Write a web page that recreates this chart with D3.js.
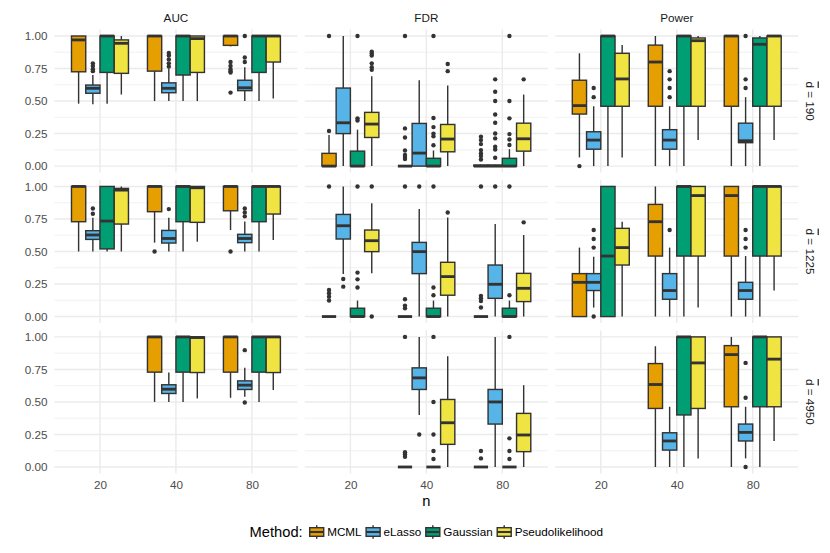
<!DOCTYPE html>
<html>
<head>
<meta charset="utf-8">
<script src="https://cdn.jsdelivr.net/npm/d3@7"></script>
<style>
  body { margin: 0; background: #fff; }
  text { font-family: "Liberation Sans", Arial, sans-serif; }
</style>
</head>
<body>
<svg width="830" height="553"></svg>
<script>
const nLevels = ["20", "40", "80"];
const methods = ["MCML", "eLasso", "Gaussian", "Pseudolikelihood"];
const metrics = ["AUC", "FDR", "Power"];
const densities = ["190", "1225", "4950"];
const yTicks = [0, 0.25, 0.5, 0.75, 1];
const yMinor = [0.125, 0.375, 0.625, 0.875];

// [n, method, lower whisker, q1, median, q3, upper whisker, outliers]
const auc190 = [
  ["20", "MCML", 0.48, 0.725, 0.97, 1, 1, []],
  ["20", "eLasso", 0.475, 0.56, 0.598, 0.623, 0.70, [0.79, 0.77, 0.745, 0.73]],
  ["20", "Gaussian", 0.48, 0.72, 1, 1, 1, []],
  ["20", "Pseudolikelihood", 0.55, 0.713, 0.944, 0.97, 1, []],
  ["40", "MCML", 0.50, 0.73, 1, 1, 1, []],
  ["40", "eLasso", 0.50, 0.564, 0.598, 0.64, 0.75, [0.87, 0.85, 0.82, 0.79, 0.765]],
  ["40", "Gaussian", 0.50, 0.70, 1, 1, 1, []],
  ["40", "Pseudolikelihood", 0.50, 0.72, 0.98, 1, 1, []],
  ["80", "MCML", 0.92, 0.928, 1, 1, 1, [0.80, 0.77, 0.745, 0.73, 0.72, 0.565]],
  ["80", "eLasso", 0.50, 0.58, 0.602, 0.66, 0.76, [1, 0.835, 0.80]],
  ["80", "Gaussian", 0.50, 0.72, 1, 1, 1, []],
  ["80", "Pseudolikelihood", 0.52, 0.80, 1, 1, 1, []]
];
const fdr190 = [
  ["20", "MCML", 0, 0, 0, 0.098, 0.24, [0.27, 1]],
  ["20", "eLasso", 0, 0.25, 0.333, 0.60, 1, []],
  ["20", "Gaussian", 0, 0, 0, 0.115, 0.28, [0.367, 0.35, 1]],
  ["20", "Pseudolikelihood", 0, 0.22, 0.323, 0.413, 0.69, [0.88, 0.865, 0.85, 0.79, 0.76, 0.74]],
  ["40", "MCML", 0, 0, 0, 0, 0, [1, 0.29, 0.22, 0.12, 0.085, 0.07, 0.055]],
  ["40", "eLasso", 0, 0, 0.10, 0.328, 0.66, []],
  ["40", "Gaussian", 0, 0, 0, 0.06, 0.12, [1, 0.37, 0.30, 0.25, 0.23, 0.16]],
  ["40", "Pseudolikelihood", 0, 0.11, 0.208, 0.32, 0.62, [0.785, 0.73]],
  ["80", "MCML", 0, 0, 0, 0.008, 0.01, [0.226, 0.20, 0.169, 0.123, 0.097, 0.077, 0.051]],
  ["80", "eLasso", 0, 0, 0, 0.008, 0.01, [0.667, 0.572, 0.50, 0.397, 0.333, 0.251, 0.213, 0.149, 0.128, 0.064]],
  ["80", "Gaussian", 0, 0, 0, 0.06, 0.13, [1, 0.50, 0.367, 0.246, 0.205, 0.162]],
  ["80", "Pseudolikelihood", 0, 0.115, 0.21, 0.33, 0.55, [0.667]]
];
const power190 = [
  ["20", "MCML", 0.067, 0.40, 0.465, 0.66, 0.867, [0]],
  ["20", "eLasso", 0, 0.13, 0.20, 0.264, 0.46, [0.60, 0.53]],
  ["20", "Gaussian", 0, 0.46, 1, 1, 1, []],
  ["20", "Pseudolikelihood", 0.067, 0.46, 0.67, 0.867, 0.93, []],
  ["40", "MCML", 0, 0.46, 0.80, 0.93, 1, []],
  ["40", "eLasso", 0, 0.13, 0.20, 0.28, 0.46, [0.73, 0.667, 0.60, 0.53]],
  ["40", "Gaussian", 0, 0.46, 1, 1, 1, []],
  ["40", "Pseudolikelihood", 0.20, 0.46, 0.964, 0.985, 1, []],
  ["80", "MCML", 0, 0.46, 1, 1, 1, []],
  ["80", "eLasso", 0, 0.18, 0.195, 0.33, 0.53, [1, 0.667, 0.60]],
  ["80", "Gaussian", 0, 0.46, 0.936, 0.985, 1, []],
  ["80", "Pseudolikelihood", 0.20, 0.46, 1, 1, 1, []]
];
const auc1225 = [
  ["20", "MCML", 0.50, 0.729, 1, 1, 1, []],
  ["20", "eLasso", 0.50, 0.593, 0.627, 0.66, 0.76, [0.83, 0.79]],
  ["20", "Gaussian", 0.50, 0.52, 0.734, 1, 1, []],
  ["20", "Pseudolikelihood", 0.50, 0.711, 0.972, 0.985, 1, []],
  ["40", "MCML", 0.568, 0.806, 1, 1, 1, [0.50]],
  ["40", "eLasso", 0.50, 0.565, 0.60, 0.662, 0.76, [0.826]],
  ["40", "Gaussian", 0.50, 0.729, 1, 1, 1, []],
  ["40", "Pseudolikelihood", 0.575, 0.724, 0.99, 1, 1, []],
  ["80", "MCML", 0.665, 0.813, 1, 1, 1, [0.50]],
  ["80", "eLasso", 0.50, 0.568, 0.60, 0.632, 0.73, [0.83, 0.80, 0.77]],
  ["80", "Gaussian", 0.50, 0.729, 1, 1, 1, []],
  ["80", "Pseudolikelihood", 0.588, 0.788, 1, 1, 1, []]
];
const fdr1225 = [
  ["20", "MCML", 0, 0, 0, 0, 0, [1, 0.205, 0.18, 0.153, 0.123]],
  ["20", "eLasso", 0.327, 0.596, 0.698, 0.785, 1, [0.289, 0.23]],
  ["20", "Gaussian", 0, 0, 0, 0.064, 0.123, [1, 0.338, 0.286, 0.223]],
  ["20", "Pseudolikelihood", 0.332, 0.499, 0.583, 0.665, 0.87, [1, 0]],
  ["40", "MCML", 0, 0, 0, 0, 0, [1, 0.133, 0.084, 0.064]],
  ["40", "eLasso", 0, 0.33, 0.499, 0.57, 0.826, [1]],
  ["40", "Gaussian", 0, 0, 0, 0.064, 0.123, [1, 0.223, 0.164]],
  ["40", "Pseudolikelihood", 0, 0.164, 0.307, 0.417, 0.762, [0.80]],
  ["80", "MCML", 0, 0, 0, 0, 0, [1, 0.159, 0.14, 0.12, 0.069]],
  ["80", "eLasso", 0, 0.14, 0.248, 0.396, 0.711, [1]],
  ["80", "Gaussian", 0, 0, 0, 0.064, 0.123, [1, 0.164]],
  ["80", "Pseudolikelihood", 0, 0.115, 0.217, 0.332, 0.627, [0.724]]
];
const power1225 = [
  ["20", "MCML", 0, 0, 0.263, 0.33, 0.53, []],
  ["20", "eLasso", 0.069, 0.20, 0.263, 0.33, 0.46, [0.665, 0.596, 0.53, 0]],
  ["20", "Gaussian", 0, 0, 0.465, 1, 1, []],
  ["20", "Pseudolikelihood", 0, 0.396, 0.53, 0.678, 0.729, []],
  ["40", "MCML", 0, 0.465, 0.729, 0.862, 1, []],
  ["40", "eLasso", 0, 0.133, 0.20, 0.33, 0.53, [0.665]],
  ["40", "Gaussian", 0, 0.465, 1, 1, 1, []],
  ["40", "Pseudolikelihood", 0.069, 0.465, 0.93, 1, 1, []],
  ["80", "MCML", 0, 0.465, 0.93, 1, 1, []],
  ["80", "eLasso", 0, 0.133, 0.20, 0.263, 0.465, [0.665, 0.596, 0.53]],
  ["80", "Gaussian", 0, 0.465, 1, 1, 1, []],
  ["80", "Pseudolikelihood", 0.20, 0.465, 1, 1, 1, []]
];
const auc4950 = [
  ["40", "MCML", 0.50, 0.729, 1, 1, 1, []],
  ["40", "eLasso", 0.50, 0.565, 0.598, 0.632, 0.726, []],
  ["40", "Gaussian", 0.50, 0.729, 1, 1, 1, []],
  ["40", "Pseudolikelihood", 0.527, 0.726, 0.995, 1, 1, []],
  ["80", "MCML", 0.532, 0.729, 1, 1, 1, []],
  ["80", "eLasso", 0.54, 0.596, 0.629, 0.662, 0.762, [0.898, 0.496]],
  ["80", "Gaussian", 0.50, 0.729, 1, 1, 1, []],
  ["80", "Pseudolikelihood", 0.591, 0.726, 1, 1, 1, []]
];
const fdr4950 = [
  ["40", "MCML", 0, 0, 0, 0, 0, [1, 0.113, 0.097, 0.079]],
  ["40", "eLasso", 0.40, 0.596, 0.685, 0.762, 1, [0.25]],
  ["40", "Gaussian", 0, 0, 0, 0, 0, [1, 0.50, 0.25, 0.123, 0.061]],
  ["40", "Pseudolikelihood", 0, 0.174, 0.34, 0.519, 0.852, []],
  ["80", "MCML", 0, 0, 0, 0, 0, [0.123, 0.066]],
  ["80", "eLasso", 0, 0.33, 0.50, 0.596, 1, []],
  ["80", "Gaussian", 0, 0, 0, 0, 0, [1, 0.22, 0.123, 0.061]],
  ["80", "Pseudolikelihood", 0, 0.118, 0.246, 0.412, 0.629, []]
];
const power4950 = [
  ["40", "MCML", 0, 0.45, 0.634, 0.795, 0.928, []],
  ["40", "eLasso", 0, 0.13, 0.20, 0.263, 0.463, []],
  ["40", "Gaussian", 0, 0.40, 1, 1, 1, []],
  ["40", "Pseudolikelihood", 0.066, 0.45, 0.80, 1, 1, []],
  ["80", "MCML", 0, 0.463, 0.864, 0.933, 1, []],
  ["80", "eLasso", 0.066, 0.20, 0.266, 0.33, 0.463, [0.80, 0.532, 0]],
  ["80", "Gaussian", 0, 0.463, 1, 1, 1, []],
  ["80", "Pseudolikelihood", 0.20, 0.463, 0.829, 1, 1, []]
];

const panels = [
  [auc190, fdr190, power190],
  [auc1225, fdr1225, power1225],
  [auc4950, fdr4950, power4950]
];

const methodColors = ["#E69F00", "#56B4E9", "#009E73", "#F0E442"];
const lineColor = "#333333";
const gridColor = "#EBEBEB";

const svg = d3.select("svg");
svg.append("rect").attr("width", 830).attr("height", 553).attr("fill", "white");

const plotLeft = 54.4, plotRight = 798.3, plotTop = 29.5, plotBottom = 473.5, gap = 7.33;
const pw = (plotRight - plotLeft - 2 * gap) / 3;
const ph = (plotBottom - plotTop - 2 * gap) / 3;

const x = d3.scalePoint().domain(nLevels).range([0, pw]).padding(0.6);
const step = x.step();
const dodge = d3.scaleBand().domain(methods).range([-0.375 * step, 0.375 * step]);
const bw = dodge.bandwidth();
const y = d3.scaleLinear().domain([-0.05, 1.05]).range([ph, 0]);
const color = d3.scaleOrdinal().domain(methods).range(methodColors);

const drawPanel = (g, data) => {
  // grid
  g.selectAll(".minor").data(yMinor).enter().append("line")
    .attr("x1", 0).attr("x2", pw).attr("y1", d => y(d)).attr("y2", d => y(d))
    .attr("stroke", gridColor).attr("stroke-width", 0.71);
  g.selectAll(".major").data(yTicks).enter().append("line")
    .attr("x1", 0).attr("x2", pw).attr("y1", d => y(d)).attr("y2", d => y(d))
    .attr("stroke", gridColor).attr("stroke-width", 1.42);
  g.selectAll(".vgrid").data(nLevels).enter().append("line")
    .attr("x1", d => x(d)).attr("x2", d => x(d)).attr("y1", 0).attr("y2", ph)
    .attr("stroke", gridColor).attr("stroke-width", 1.42);

  const boxes = g.selectAll(".box").data(data).enter().append("g")
    .attr("transform", d => `translate(${x(d[0]) + dodge(d[1]) + bw / 2},0)`);

  boxes.each(function (d) {
    const b = d3.select(this);
    d[7].forEach(o => {
      b.append("circle").attr("cx", 0).attr("cy", y(o)).attr("r", 2.2).attr("fill", lineColor);
    });
    b.append("line").attr("x1", 0).attr("x2", 0).attr("y1", y(d[6])).attr("y2", y(d[5]))
      .attr("stroke", lineColor).attr("stroke-width", 1.42);
    b.append("line").attr("x1", 0).attr("x2", 0).attr("y1", y(d[3])).attr("y2", y(d[2]))
      .attr("stroke", lineColor).attr("stroke-width", 1.42);
    b.append("rect")
      .attr("x", -bw / 2).attr("width", bw)
      .attr("y", y(d[5])).attr("height", y(d[3]) - y(d[5]))
      .attr("fill", color(d[1])).attr("stroke", lineColor).attr("stroke-width", 1.42);
    b.append("line").attr("x1", -bw / 2).attr("x2", bw / 2)
      .attr("y1", y(d[4])).attr("y2", y(d[4]))
      .attr("stroke", lineColor).attr("stroke-width", 2.84);
  });
};

panels.forEach((row, r) => {
  row.forEach((data, c) => {
    const g = svg.append("g")
      .attr("transform", `translate(${plotLeft + c * (pw + gap)},${plotTop + r * (ph + gap)})`);
    drawPanel(g, data);

    if (c == 0) {
      const ax = g.append("g")
        .call(d3.axisLeft(y).tickValues(yTicks).tickFormat(d3.format(".2f")).tickSize(0).tickPadding(7));
      ax.select(".domain").remove();
      ax.selectAll("text").attr("fill", "#4D4D4D").style("font-size", "11.7px");
    }
    if (r == 2) {
      const ax = g.append("g").attr("transform", `translate(0,${ph})`)
        .call(d3.axisBottom(x).tickSize(0).tickPadding(7));
      ax.select(".domain").remove();
      ax.selectAll("text").attr("fill", "#4D4D4D").style("font-size", "11.7px");
    }
    if (r == 0) {
      g.append("text").attr("x", pw / 2).attr("y", -12)
        .attr("text-anchor", "middle").attr("dominant-baseline", "central")
        .attr("fill", "#1A1A1A").style("font-size", "11.7px")
        .text(metrics[c]);
    }
    if (c == 2) {
      const t = g.append("text")
        .attr("transform", `translate(${pw + 12.5},${ph / 2}) rotate(90)`)
        .attr("text-anchor", "middle").attr("dominant-baseline", "central")
        .attr("fill", "#1A1A1A").style("font-size", "11.7px");
      t.append("tspan").style("text-decoration", "overline").text("d");
      t.append("tspan").text(" = " + densities[r]);
    }
  });
});

// axis title
svg.append("text").attr("x", (plotLeft + plotRight) / 2).attr("y", 505.5)
  .attr("text-anchor", "middle").attr("fill", "black").style("font-size", "14.7px")
  .text("n");

// legend
const legend = svg.append("g");
const title = legend.append("text").attr("x", 0).attr("y", 537)
  .attr("fill", "black").style("font-size", "14.7px").text("Method:");
let cur = title.node().getComputedTextLength() + 7;
methods.forEach(m => {
  const k = legend.append("g").attr("transform", `translate(${cur},532)`);
  k.append("line").attr("x1", 7).attr("x2", 7).attr("y1", -6.8).attr("y2", 6.8)
    .attr("stroke", lineColor).attr("stroke-width", 1.42);
  k.append("rect").attr("x", 0).attr("y", -4.3).attr("width", 14).attr("height", 8.6)
    .attr("fill", color(m)).attr("stroke", lineColor).attr("stroke-width", 1.42);
  k.append("line").attr("x1", 0).attr("x2", 14).attr("y1", 0).attr("y2", 0)
    .attr("stroke", lineColor).attr("stroke-width", 2.1);
  const lt = legend.append("text").attr("x", cur + 17.5).attr("y", 536)
    .attr("fill", "black").style("font-size", "11.7px").text(m);
  cur = cur + 17.5 + lt.node().getComputedTextLength() + 4.5;
});
const total = cur - 4.5;
legend.attr("transform", `translate(${(plotLeft + plotRight) / 2 - total / 2},0)`);
</script>
</body>
</html>
